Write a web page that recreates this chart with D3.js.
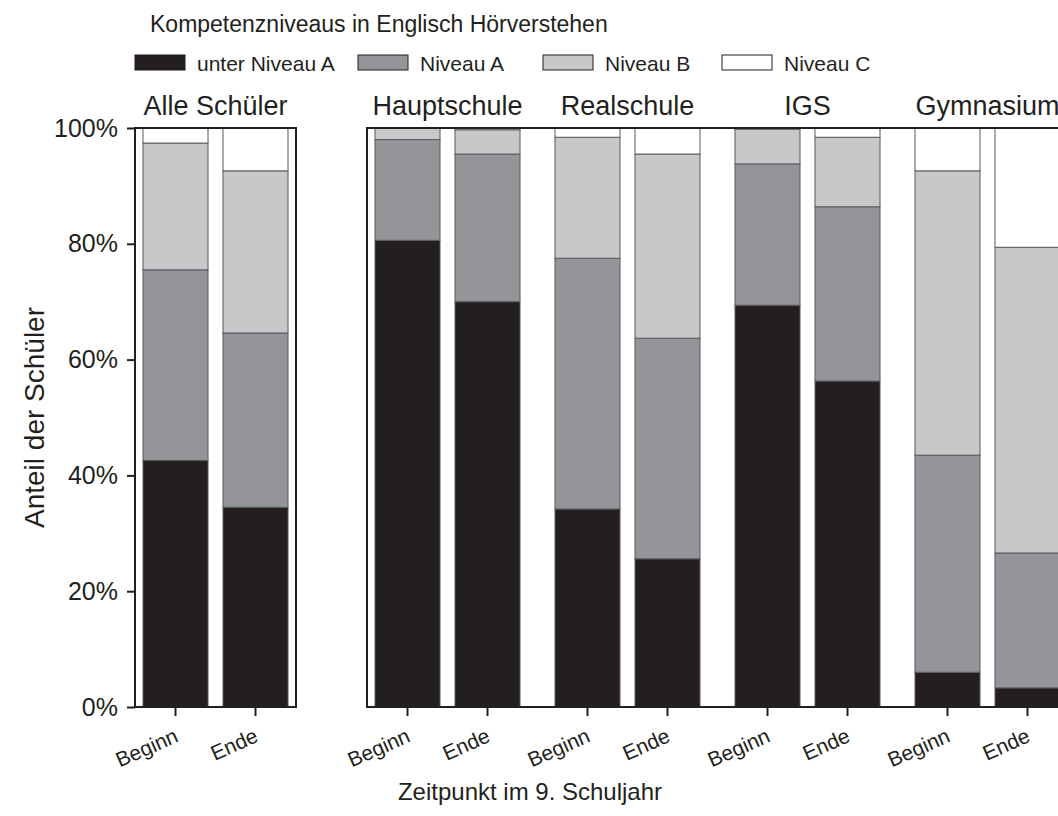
<!DOCTYPE html>
<html>
<head>
<meta charset="utf-8">
<script src="https://cdn.jsdelivr.net/npm/d3@7"></script>
<style>
  body { margin: 0; background: #fff; }
  svg { display: block; font-family: 'Liberation Sans', Arial, sans-serif; }
</style>
</head>
<body>
<svg id="chart" width="1058" height="816"></svg>
<script>
  // categories
  var levels = ['unter Niveau A', 'Niveau A', 'Niveau B', 'Niveau C']
  var groups = ['Alle Schüler', 'Hauptschule', 'Realschule', 'IGS', 'Gymnasium']
  var times = ['Beginn', 'Ende']
  var yTicks = [0, 20, 40, 60, 80, 100]

  // series values in %, order: group x time (Beginn, Ende)
  var unterA = [42.6, 34.5, 80.6, 70.0, 34.2, 25.6, 69.4, 56.3, 6.0, 3.3]
  var nivA = [32.9, 30.1, 17.4, 25.5, 43.3, 38.1, 24.4, 30.1, 37.5, 23.3]
  var nivB = [21.9, 28.0, 2.0, 4.2, 20.9, 31.8, 6.0, 12.0, 49.1, 52.8]
  var nivC = [2.6, 7.4, 0.0, 0.3, 1.6, 4.5, 0.2, 1.6, 7.4, 20.6]

  var colors = ['#231f20', '#939598', '#c7c8ca', '#ffffff']
  var ink = '#231f20'

  var width = 1058; var height = 816
  var plotTop = 128; var plotBottom = 707

  var svg = d3.select('#chart')
    .attr('width', width)
    .attr('height', height)

  // one row per bar
  var rows = []
  groups.forEach(function (g, gi) {
    times.forEach(function (t, ti) {
      var i = gi * 2 + ti
      rows.push({ group: g, time: t, 'unter Niveau A': unterA[i], 'Niveau A': nivA[i], 'Niveau B': nivB[i], 'Niveau C': nivC[i] })
    })
  })

  var stacked = d3.stack().keys(levels)(rows)

  var y = d3.scaleLinear()
    .domain([0, 100])
    .range([plotBottom, plotTop])

  // left panel only holds "Alle Schüler", right panel the school types
  var groupX = d3.scaleBand()
    .domain(groups.slice(1))
    .range([367, 367 + 4 * 180])

  var panelX = function (g) {
    return g === 'Alle Schüler' ? 135 : groupX(g)
  }

  var timeX = d3.scaleBand()
    .domain(times)
    .range([8, 153])
    .paddingInner(0.1875)

  var barX = function (d) { return panelX(d.group) + timeX(d.time) }

  // bars
  svg.append('g')
    .selectAll('g')
    .data(stacked)
    .enter().append('g')
    .attr('fill', (d, i) => colors[i])
    .selectAll('rect')
    .data(d => d)
    .enter().append('rect')
    .attr('x', d => barX(d.data))
    .attr('width', timeX.bandwidth())
    .attr('y', d => y(d[1]))
    .attr('height', d => y(d[0]) - y(d[1]))
    .attr('stroke', '#58595b')
    .attr('stroke-width', 1)

  // panel frames
  var frame = svg.append('g')
    .attr('fill', 'none')
    .attr('stroke', ink)
    .attr('stroke-width', 2)
  frame.append('rect')
    .attr('x', 135).attr('y', plotTop)
    .attr('width', 296 - 135).attr('height', plotBottom - plotTop)
  frame.append('path')
    .attr('d', 'M' + width + ',' + plotTop + 'H367V' + plotBottom + 'H' + width)

  // y axis
  var yAxis = svg.append('g')
    .attr('transform', 'translate(135,0)')
    .call(d3.axisLeft(y).tickValues(yTicks).tickSize(8).tickPadding(9).tickFormat(d => d + '%'))
  yAxis.select('.domain').remove()
  yAxis.selectAll('line').attr('stroke', ink).attr('stroke-width', 2)
  yAxis.selectAll('text')
    .attr('font-size', 25)
    .attr('fill', ink)
    .attr('font-family', 'Liberation Sans, Arial, sans-serif')

  // x ticks and labels
  var xTicks = svg.append('g')
    .selectAll('g')
    .data(rows)
    .enter().append('g')
    .attr('transform', d => 'translate(' + (barX(d) + timeX.bandwidth() / 2) + ',' + plotBottom + ')')
  xTicks.append('line')
    .attr('y1', 0).attr('y2', 9)
    .attr('stroke', ink).attr('stroke-width', 2)
  xTicks.append('text')
    .attr('transform', 'translate(4,34) rotate(-24)')
    .attr('text-anchor', 'end')
    .attr('font-size', 21)
    .attr('fill', ink)
    .text(d => d.time)

  // panel titles
  svg.append('g')
    .selectAll('text')
    .data(groups)
    .enter().append('text')
    .attr('x', g => panelX(g) + 80.5)
    .attr('y', 115)
    .attr('text-anchor', 'middle')
    .attr('font-size', 27)
    .attr('fill', ink)
    .text(g => g)

  // axis titles
  svg.append('text')
    .attr('transform', 'translate(44,' + (plotTop + plotBottom) / 2 + ') rotate(-90)')
    .attr('text-anchor', 'middle')
    .attr('font-size', 28)
    .attr('fill', ink)
    .text('Anteil der Schüler')

  svg.append('text')
    .attr('x', 530)
    .attr('y', 800)
    .attr('text-anchor', 'middle')
    .attr('font-size', 24)
    .attr('fill', ink)
    .text('Zeitpunkt im 9. Schuljahr')

  // legend
  svg.append('text')
    .attr('x', 150)
    .attr('y', 32)
    .attr('font-size', 23)
    .attr('fill', ink)
    .text('Kompetenzniveaus in Englisch Hörverstehen')

  var legendX = [135, 358, 543, 722]
  var legend = svg.append('g')
    .selectAll('g')
    .data(levels)
    .enter().append('g')
    .attr('transform', (d, i) => 'translate(' + legendX[i] + ',55)')
  legend.append('rect')
    .attr('width', 50).attr('height', 15)
    .attr('fill', (d, i) => colors[i])
    .attr('stroke', ink).attr('stroke-width', 1)
  legend.append('text')
    .attr('x', 62).attr('y', 16)
    .attr('font-size', 21)
    .attr('fill', ink)
    .text(d => d)
</script>
</body>
</html>
